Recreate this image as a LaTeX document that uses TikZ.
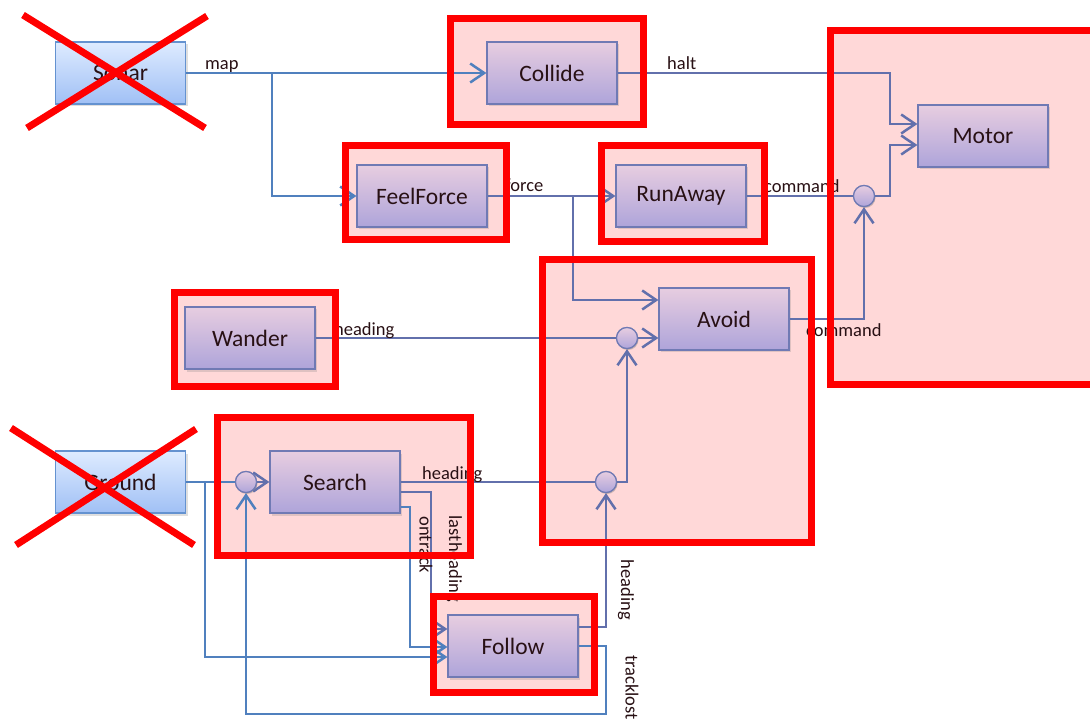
\documentclass[tikz,border=0pt]{standalone}
\usepackage{fontspec}
\setmainfont{Carlito}
\usetikzlibrary{arrows.meta,shadows}
\pgfdeclarelayer{bg}
\pgfdeclarelayer{fg}
\pgfsetlayers{bg,main,fg}
\definecolor{pinkfill}{RGB}{255,216,216}
\definecolor{modtop}{RGB}{231,205,224}
\definecolor{modbot}{RGB}{174,164,218}
\definecolor{modborder}{RGB}{112,122,180}
\definecolor{senstop}{RGB}{222,235,255}
\definecolor{sensbot}{RGB}{160,192,245}
\definecolor{sensborder}{RGB}{100,146,208}
\definecolor{wirecol}{RGB}{98,112,172}
\definecolor{senswire}{RGB}{80,128,190}
\definecolor{txt}{RGB}{40,16,20}
\definecolor{redc}{RGB}{255,0,0}
\tikzset{
  modbox/.style={draw=modborder, line width=1.2pt, top color=modtop, bottom color=modbot,
    minimum width=130pt, minimum height=62pt, inner sep=0pt,
    font=\fontsize{23.5}{28}\selectfont, text=txt,
    drop shadow={shadow xshift=2pt, shadow yshift=-2.5pt, opacity=0.25}},
  sensbox/.style={modbox, draw=sensborder, top color=senstop, bottom color=sensbot},
  junc/.style={circle, draw=modborder, line width=1.2pt, top color=modtop, bottom color=modbot,
    minimum size=21pt, inner sep=0pt,
    drop shadow={shadow xshift=1pt, shadow yshift=-1.5pt, opacity=0.25}},
  wire/.style={draw=wirecol, line width=2.5pt},
  swire/.style={draw=senswire, line width=2.5pt},
  arr/.style={-{Straight Barb[length=14pt,width=19pt]}},
  lbl/.style={font=\fontsize{18.5}{22}\selectfont, inner sep=0pt, text=txt},
  redframe/.style={draw=redc, line width=7pt},
  pinkzone/.style={fill=pinkfill},
  redcross/.style={draw=redc, line width=7pt}
}
\begin{document}
\begin{tikzpicture}[x=1pt,y=-1pt]
\useasboundingbox (0,0) rectangle (1090,719);

% pink zones
\begin{pgfonlayer}{bg}
  \fill[pinkzone] (450.5,18.5) rectangle (643.5,124.5);
  \fill[pinkzone] (345.5,145.5) rectangle (506.5,239.5);
  \fill[pinkzone] (601.5,145.5) rectangle (764.5,241.5);
  \fill[pinkzone] (830.5,30.5) rectangle (1100,384.5);
  \fill[pinkzone] (174.5,292.5) rectangle (335.5,386.5);
  \fill[pinkzone] (542.5,259.5) rectangle (811.5,542.5);
  \fill[pinkzone] (217.5,417.5) rectangle (470.5,555.5);
  \fill[pinkzone] (433.5,596.5) rectangle (594.5,692.5);
\end{pgfonlayer}

% modules
\node[sensbox] (sonar) at (120.5,73) {Sonar};
\node[sensbox] (ground) at (120.5,482) {Ground};
\node[modbox] (collide) at (552,73) {Collide};
\node[modbox] (motor) at (983,136) {Motor};
\node[modbox] (feelforce) at (422,196) {FeelForce};
\node[modbox] (runaway) at (681,196) {RunAway};
\node[modbox] (wander) at (250,338) {Wander};
\node[modbox] (avoid) at (724,319) {Avoid};
\node[modbox] (search) at (335,482) {Search};
\node[modbox] (follow) at (513,646) {Follow};

% junctions
\node[junc] (cm) at (864,196) {};
\node[junc] (ca) at (627,338) {};
\node[junc] (cs2) at (606,482) {};
\node[junc] (cs) at (246,482) {};

% helper coordinates
\coordinate (mapbr) at (272,73);
\coordinate (mapdn) at (272,196);
\coordinate (haltdn) at (890,124);
\coordinate (cmdup) at (890,145);
\coordinate (forcebr) at (573,196);
\coordinate (avup) at (573,300);
\coordinate (ysl) at (0,492);
\coordinate (yso) at (0,507);
\coordinate (lhbend) at (431,629);
\coordinate (otbend) at (410,647);
\coordinate (gbr) at (205,482);
\coordinate (gbend) at (205,657);
\coordinate (fhb) at (606,627);
\coordinate (tl1) at (606,646);
\coordinate (tl2) at (606,714);

% connectors
\draw[swire,arr] (sonar.east) -- (collide.west);
\draw[swire,arr] (mapbr) -- (mapdn) -- (feelforce.west);
\draw[wire,arr] (collide.east) -| (haltdn) -- (motor.west |- haltdn);
\draw[wire] (runaway.east) -- (cm.west);
\draw[wire,arr] (cm.east) -| (cmdup) -- (motor.west |- cmdup);
\draw[wire,arr] (feelforce.east) -- (runaway.west);
\draw[wire,arr] (forcebr) -- (avup) -- (avoid.west |- avup);
\draw[wire] (wander.east) -- (ca.west);
\draw[wire,arr] (ca.east) -- (avoid.west |- ca);
\draw[wire,arr] (avoid.east) -| (cm.south);
\draw[wire] (search.east) -- (cs2.west);
\draw[wire,arr] (cs2.east) -| (ca.south);
\draw[wire,arr] (follow.east |- fhb) -- (fhb) -- (cs2.south);
\draw[swire] (ground.east) -- (cs.west);
\draw[wire,arr] (cs.east) -- (search.west);
\draw[swire,arr] (gbr) -- (gbend) -- (follow.west |- gbend);
\draw[wire,arr] (search.east |- ysl) -| (lhbend) -- (follow.west |- lhbend);
\draw[swire,arr] (search.east |- yso) -| (otbend) -- (follow.west |- otbend);
\draw[swire,arr] (follow.east |- tl1) -- (tl1) -- (tl2) -| (cs.south);

% redraw junctions on top
\node[junc] at (cm) {};
\node[junc] at (ca) {};
\node[junc] at (cs2) {};
\node[junc] at (cs) {};

% labels
\node[lbl, anchor=base west] (lmap) at (205,70) {map};
\node[lbl, anchor=base west] (lhalt) at (667,70) {halt};
\node[lbl, anchor=base west] (lforce) at (505,192) {force};
\node[lbl, anchor=base west] (lcmd1) at (764,193) {command};
\node[lbl, anchor=base west] (lhead1) at (334,336) {heading};
\node[lbl, anchor=base west] (lcmd2) at (806,337) {command};
\node[lbl, anchor=base west] (lhead2) at (422,479) {heading};
\node[lbl, rotate=-90] (lontrack) at (426,545) {ontrack};
\node[lbl, rotate=-90] (llast) at (454,559) {lastheading};
\node[lbl, rotate=-90] (lhead3) at (626,590) {heading};
\node[lbl, rotate=-90, anchor=west] (ltrack) at (632,655) {tracklost};

% red frames and crosses
\begin{pgfonlayer}{fg}
  \draw[redframe] (450.5,18.5) rectangle (643.5,124.5);
  \draw[redframe] (345.5,145.5) rectangle (506.5,239.5);
  \draw[redframe] (601.5,145.5) rectangle (764.5,241.5);
  \draw[redframe] (830.5,30.5) rectangle (1100,384.5);
  \draw[redframe] (174.5,292.5) rectangle (335.5,386.5);
  \draw[redframe] (542.5,259.5) rectangle (811.5,542.5);
  \draw[redframe] (217.5,417.5) rectangle (470.5,555.5);
  \draw[redframe] (433.5,596.5) rectangle (594.5,692.5);
  \draw[redcross] (23,15) -- (205,128);
  \draw[redcross] (27,128) -- (207,16);
  \draw[redcross] (11,428) -- (194,545);
  \draw[redcross] (16,545) -- (196,429);
\end{pgfonlayer}
\end{tikzpicture}
\end{document}
